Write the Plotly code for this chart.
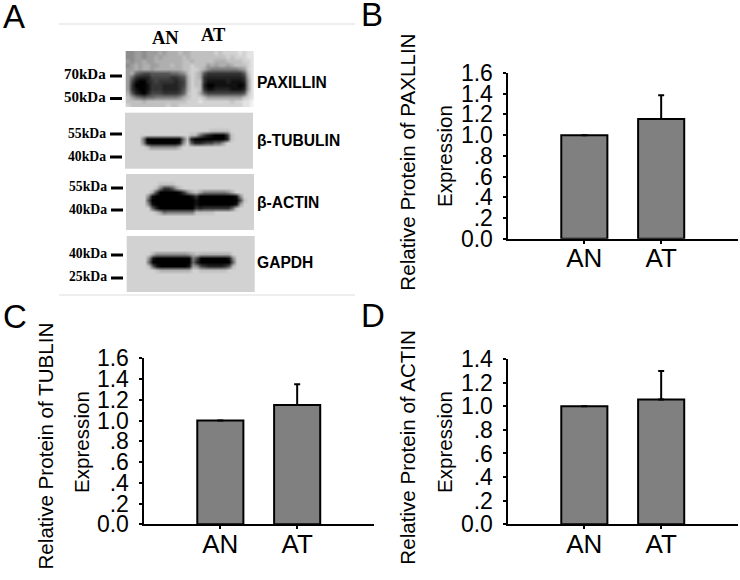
import plotly.graph_objects as go

categories = ["AN", "AT"]

paxillin_values = [1.0, 1.155]
paxillin_err = [None, 0.23]
tubulin_values = [1.0, 1.15]
tubulin_err = [None, 0.2]
actin_values = [1.0, 1.056]
actin_err = [None, 0.242]

ticks_16 = [0, 0.2, 0.4, 0.6, 0.8, 1.0, 1.2, 1.4, 1.6]
labels_16 = ["0.0", ".2", ".4", ".6", ".8", "1.0", "1.2", "1.4", "1.6"]
ticks_14 = [0, 0.2, 0.4, 0.6, 0.8, 1.0, 1.2, 1.4]
labels_14 = ["0.0", ".2", ".4", ".6", ".8", "1.0", "1.2", "1.4"]

# blot grey levels, one hex digit per cell (0 black, f white)
blot_paxillin = [
    "8899 8999 a9aa abaa bbbb bbcb cccc dcdd",
    "8899 899a 9aaa aaba bbbb bbbb bcbc ccdd",
    "9899 a99a aaaa aabb abbb bbaa abbb bccd",
    "89a9 aa99 aaab aabb cbbb 9a9a a9ab bbcd",
    "99a9 aa9a aaaa aabb ccba 8777 7777 89cd",
    "9a65 4455 5556 678b cba5 3333 3333 35bd",
    "9632 2244 4443 345a cba3 2222 2222 23ad",
    "9410 0234 3333 234a cbb3 1111 1211 129d",
    "9300 0133 3222 234a cbb2 0011 1111 019d",
    "9310 0133 3222 235a ccb3 1122 2211 129d",
    "a521 0244 4333 346b cca6 4444 4444 45bd",
    "b976 5667 7777 78ab cccb 9999 9999 9bcd",
    "bbbb abbb bbbb bbbc ccdc cccc ccbc cdde",
    "cbbb bbbb bbcb bccc cccc cccc cccc cdde",
]
blot_tubulin = [
    "cccc cccc cccc cccc cccc cccc cccc cccc",
    "cccc cccc cccc cccc cccc cccc cccc cccc",
    "cccc cccc cccc cccc cccc cccc cccc cccc",
    "cccc cccc cccc cccc cccc cccc cccc cccc",
    "cccc cccc cccc cccc cccc cbbb bbcc cccc",
    "cccc cccc cccc cccc bb74 2100 03bc cccc",
    "cccc 7000 0000 006b 2000 0000 02bc cccc",
    "cccc 8100 0000 018c 5223 4466 9ccc cccc",
    "cccc cb88 8888 8acc cccc cccc cccc cccc",
    "cccc cccc cccc cccc cccc cccc cccc cccc",
    "cccc cccc cccc cccc cccc cccc cccc cccc",
    "cccc cccc cccc cccc cccc cccc cccc cccc",
    "cccc cccc cccc cccc cccc cccc cccc cccc",
    "cccc cccc cccc cccc cccc cccc cccc cccc",
]
blot_actin = [
    "cccc cccc cccc cccc cccc cccc cccc cccc",
    "cccc cccc cccc cccc cccc cccc cccc cccc",
    "cccc cccc bbbb cccc cccc cccc cccc cccc",
    "cccc cccb 7335 9bcc cccc cccc cccc cccc",
    "cccc cca4 0000 0148 ab97 7777 78ac cccc",
    "cccc c810 0000 0000 1300 0000 0001 8ccc",
    "cccc c500 0000 0000 0100 0000 0000 4bcc",
    "cccc c810 0000 0000 0100 0000 0001 9ccc",
    "cccc cc62 0000 0000 0323 3333 336b cccc",
    "cccc cccb 9677 7777 7bbb bbcc cccc cccc",
    "cccc cccc cccc cccc cccc cccc cccc cccc",
    "cccc cccc cccc cccc cccc cccc cccc cccc",
    "cccc cccc cccc cccc cccc cccc cccc cccc",
    "cccc cccc cccc cccc cccc cccc cccc cccc",
]
blot_gapdh = [
    "cccc cccc cccc cccc cccc cccc cccc cccc",
    "cccc cccc cccc cccc cccc cccc cccc cccc",
    "cccc cccc cccc cccc cccc cccc cccc cccc",
    "cccc cccc cccc cccc cccc cccc cccc cccc",
    "cccc cca8 8888 8889 abaa aaaa aacc cccc",
    "cccc c810 0000 0000 7400 0000 018c cccc",
    "cccc c600 0000 0000 6200 0000 006c cccc",
    "cccc cb51 0000 0001 9843 2222 35bc cccc",
    "cccc cccb aaaa aaaa ccbb bbbb bccc cccc",
    "cccc cccc cccc cccc cccc cccc cccc cccc",
    "cccc cccc cccc cccc cccc cccc cccc cccc",
    "cccc cccc cccc cccc cccc cccc cccc cccc",
    "cccc cccc cccc cccc cccc cccc cccc cccc",
    "cccc cccc cccc cccc cccc cccc cccc cccc",
]

W, H = 740, 580
SANS = "Liberation Sans"
SERIF = "Liberation Serif"


def grid(rows):
    return [[int(c, 16) for c in r.replace(" ", "")] for r in rows]


fig = go.Figure()

# bar panels: axis suffix, pixel box, values, errors, ticks, labels
panels = [
    ("", (507.5, 738, 73, 238.7), paxillin_values, paxillin_err, ticks_16, labels_16, 1.6),
    ("2", (143.5, 374, 358.3, 524.3), tubulin_values, tubulin_err, ticks_16, labels_16, 1.6),
    ("3", (507.5, 738, 359, 524.3), actin_values, actin_err, ticks_14, labels_14, 1.4),
]

for suffix, box, values, errs, ticks, labels, top in panels:
    fig.add_trace(go.Bar(
        x=[0, 1], y=values, width=0.6, xaxis="x" + suffix, yaxis="y" + suffix,
        marker=dict(color="#808080", line=dict(color="black", width=2)),
        error_y=dict(type="data", symmetric=False, array=errs, arrayminus=[None, 0],
                     color="black", thickness=2, width=3),
    ))
    left, right, ytop, ybot = box
    fig.layout["xaxis" + suffix] = dict(
        domain=[left / W, right / W], range=[-1, 2], anchor="y" + suffix,
        tickmode="array", tickvals=[0, 1], ticktext=categories,
        showgrid=False, zeroline=False, showline=True, linecolor="black", linewidth=2,
        ticks="outside", ticklen=3, tickwidth=1.5, tickcolor="black",
        tickfont=dict(family=SANS, size=26, color="black"), ticklabelstandoff=-8,
    )
    fig.layout["yaxis" + suffix] = dict(
        domain=[1 - ybot / H, 1 - ytop / H], range=[0, top], anchor="x" + suffix,
        tickmode="array", tickvals=ticks, ticktext=labels,
        showgrid=False, zeroline=False, showline=True, linecolor="black", linewidth=2,
        ticks="outside", ticklen=3, tickwidth=1.5, tickcolor="black",
        tickfont=dict(family=SANS, size=23, color="black"), ticklabelstandoff=5,
    )

# pixel axis over the whole page for the blot panel
fig.layout.xaxis4 = dict(domain=[0, 1], range=[0, W], visible=False, anchor="y4")
fig.layout.yaxis4 = dict(domain=[0, 1], range=[H, 0], visible=False, anchor="x4")

blots = [
    (blot_paxillin, 125.7, 51),
    (blot_tubulin, 125, 112.7),
    (blot_actin, 126, 174),
    (blot_gapdh, 126.7, 236),
]
for rows, x_left, y_top in blots:
    fig.add_trace(go.Heatmap(
        z=grid(rows), x0=x_left + 2, dx=4, y0=y_top + 2, dy=4, xaxis="x4", yaxis="y4",
        zmin=0, zmax=14.6, colorscale=[[0, "black"], [1, "white"]], showscale=False,
        zsmooth="best", hoverinfo="skip",
    ))

annotations = []


def label(text, x, y, size, family=SANS, bold=False, anchor="center", angle=0):
    if bold:
        text = "<b>" + text + "</b>"
    annotations.append(dict(
        text=text, x=x, y=y, xref="x4", yref="y4", showarrow=False, xanchor=anchor,
        yanchor="middle", textangle=angle, font=dict(family=family, size=size, color="black"),
    ))


for letter, x, y in [("A", 13.5, 16), ("B", 372, 14), ("C", 15, 316), ("D", 373, 315)]:
    label(letter, x, y, 33)

label("AN", 165.5, 38, 18.5, SERIF, True)
label("AT", 213.5, 35, 18.5, SERIF, True)

for name, y in [("PAXILLIN", 82), ("β-TUBULIN", 140), ("β-ACTIN", 202), ("GAPDH", 262)]:
    label(name, 255, y, 15.6, SANS, True, "left")

shapes = []
marker_labels = [
    ("70kDa", 108, 74, 15, 76), ("50kDa", 108, 97, 15, 98.5),
    ("55kDa", 108, 133, 13.7, 134), ("40kDa", 108, 156, 13.7, 157),
    ("55kDa", 109, 186, 13.7, 188), ("40kDa", 109, 209, 13.7, 210),
    ("40kDa", 109, 253, 13.7, 255), ("25kDa", 109, 276, 13.7, 278),
]
for text, x, y, size, dash_y in marker_labels:
    label(text, x, y, size, SERIF, True, "right")
    shapes.append(dict(type="line", xref="x4", yref="y4", x0=x + 2, x1=x + 14, y0=dash_y, y1=dash_y,
                       line=dict(color="black", width=3)))

for y in [24, 295]:
    shapes.append(dict(type="line", xref="x4", yref="y4", x0=59, x1=355, y0=y, y1=y,
                       line=dict(color="#e8e8e8", width=1.5)))

titles = [
    ("Relative Protein of PAXLLIN", 406.7, 162, 444, 156),
    ("Relative Protein of TUBLIN", 45, 446.5, 81, 442),
    ("Relative Protein of ACTIN", 406.7, 447, 444, 442),
]
for text, x, y, x2, y2 in titles:
    label(text, x, y, 20.6, angle=-90)
    label("Expression", x2, y2, 20.6, angle=-90)

fig.update_layout(
    width=W, height=H, margin=dict(l=0, r=0, t=0, b=0, autoexpand=False), showlegend=False,
    paper_bgcolor="white", plot_bgcolor="rgba(0,0,0,0)", annotations=annotations, shapes=shapes,
)
fig.write_html("out.html", config={"displayModeBar": False},
               post_script="document.body.style.margin='0';document.body.style.overflow='hidden';")
